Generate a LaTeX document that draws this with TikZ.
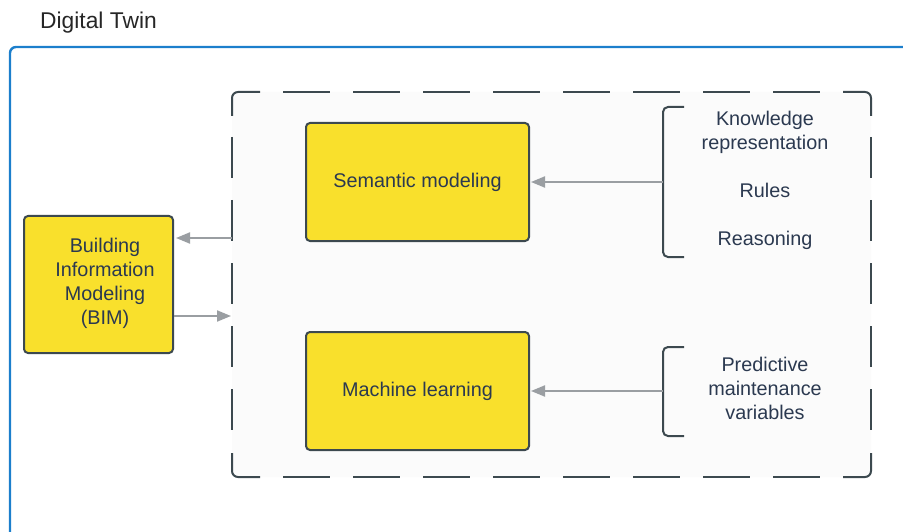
\documentclass[tikz,border=0pt]{standalone}
\usepackage{fontspec}
\setmainfont{Liberation Sans}
\usetikzlibrary{arrows.meta}
\definecolor{twinblue}{HTML}{1C7FCC}
\definecolor{boxyellow}{HTML}{F9E02C}
\definecolor{edgegray}{HTML}{3C494F}
\definecolor{arrowgray}{HTML}{9A9EA2}
\definecolor{textnavy}{HTML}{2B3950}
\definecolor{panelfill}{HTML}{FBFBFB}
\tikzset{
  yellowbox/.style={draw=edgegray, line width=2pt, fill=boxyellow, rounded corners=4pt, inner sep=0pt},
  panel/.style={fill=panelfill, rounded corners=6pt, inner sep=0pt},
  panelcorner/.style={draw=edgegray, line width=2pt, rounded corners=6pt},
  hdash/.style={draw=edgegray, line width=2pt, dash pattern=on 47pt off 23pt},
  vdash/.style={draw=edgegray, line width=2pt, dash pattern=on 41pt off 22pt},
  label text/.style={text=textnavy, align=center, font=\fontsize{19.8}{24}\selectfont, inner sep=0pt},
  bracketline/.style={draw=edgegray, line width=2pt, rounded corners=5pt},
  arr/.style={draw=arrowgray, line width=2pt, -{Triangle[length=14pt,width=11pt]}},
}
\begin{document}
\begin{tikzpicture}[x=1pt,y=-1pt]
\useasboundingbox (0,0) rectangle (903,532);
% title
\node[anchor=base west, inner sep=0pt, text=black!85, font=\fontsize{22.8}{27}\selectfont] (title) at (40,29) {Digital Twin};
% outer frame
\draw[twinblue, line width=2.4pt, rounded corners=6pt] (10,560) -- (10,47) -- (930,47);
% dashed panel
\node[panel, minimum width=639pt, minimum height=385pt] (cont) at (551.5,284.5) {};
\draw[panelcorner] (232,116) -- (232,92) -- (260,92);
\draw[panelcorner] (843,92) -- (871,92) -- (871,116);
\draw[panelcorner] (871,453) -- (871,477) -- (843,477);
\draw[panelcorner] (260,477) -- (232,477) -- (232,453);
\draw[hdash] (283,92) -- (820,92);
\draw[hdash] (283,477) -- (820,477);
\draw[vdash] (232,137) -- (232,430);
\draw[vdash] (871,137) -- (871,430);
% yellow boxes
\node[yellowbox, minimum width=149pt, minimum height=137pt] (bim) at (98.5,284.5) {};
\node[label text] (bimtext) at (105,283) {Building\\Information\\Modeling\\(BIM)};
\node[yellowbox, label text, minimum width=223pt, minimum height=118pt] (sem) at (417.5,182) {Semantic modeling};
\node[yellowbox, label text, minimum width=223pt, minimum height=118pt] (ml) at (417.5,391) {Machine learning};
% right texts
\node[label text] (kr) at (765,180) {Knowledge\\representation\\[24pt]Rules\\[24pt]Reasoning};
\node[label text] (pmv) at (765,388) {Predictive\\maintenance\\variables};
% brackets
\coordinate (b1) at (663,182);
\coordinate (b2) at (663,391);
\draw[bracketline] (684,107) -- (663,107) -- (663,257) -- (684,257);
\draw[bracketline] (684,347) -- (663,347) -- (663,436) -- (684,436);
% arrows from brackets
\draw[arr] (b1) -- ([xshift=1pt]sem.east |- b1);
\draw[arr] (b2) -- ([xshift=1pt]ml.east |- b2);
% arrows between panel and BIM
\coordinate (p1) at (232,238);
\coordinate (p2) at (231,316);
\draw[arr] (p1) -- ([xshift=2pt]bim.east |- p1);
\draw[arr] (bim.east |- p2) -- (p2);
\end{tikzpicture}
\end{document}
